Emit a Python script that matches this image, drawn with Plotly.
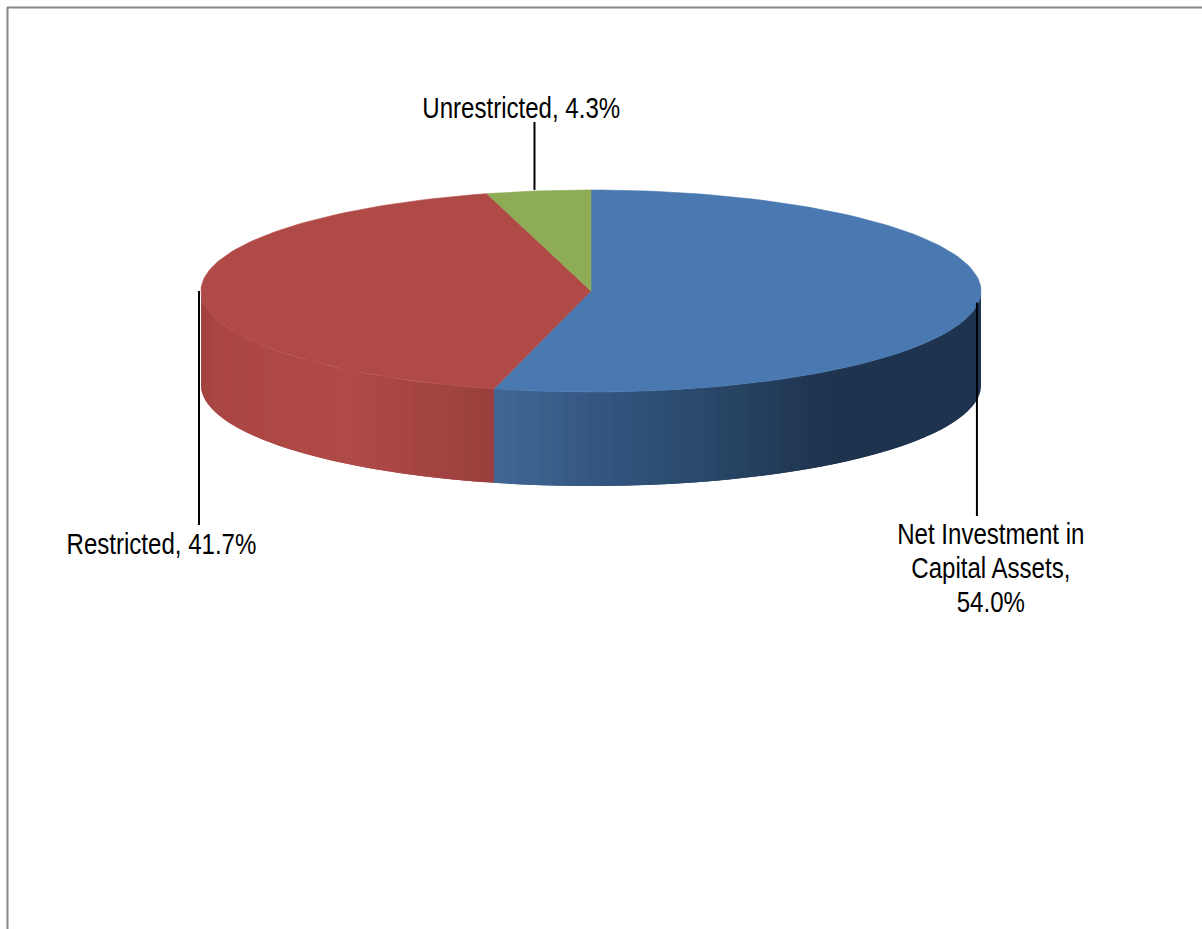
import numpy as np
import plotly.graph_objects as go

# --- data ---
categories = ["Net Investment in Capital Assets", "Restricted", "Unrestricted"]
shares = [54.0, 41.7, 4.3]

# --- styling ---
top_colors = ["#4a78b0", "#b04a47", "#8eab55"]
# side shading: (position along the slice's front x, colour)
blue_side_x = [495, 600, 700, 830, 981]
blue_side_rgb = [(64, 103, 150), (51, 86, 128), (42, 73, 107), (30, 51, 78), (30, 51, 78)]
red_side_x = [200, 215, 350, 440, 495]
red_side_rgb = [(160, 66, 63), (170, 70, 67), (176, 74, 71), (162, 68, 65), (154, 63, 61)]

W, H = 1202, 929
CX, CY, RX, RY, DEPTH = 591.0, 291.0, 390.0, 101.0, 94.0
FONT = "Liberation Sans, Arial, sans-serif"
FONT_SIZE = 29
X_SQUEEZE = 0.83
LINE_PX = 34


def ex(t):
    return CX + RX * np.sin(np.radians(t))


def ey(t):
    return CY - RY * np.cos(np.radians(t))


def shade(x, xs, rgb):
    return "rgb(%d,%d,%d)" % tuple(
        int(round(np.interp(x, xs, [c[i] for c in rgb]))) for i in range(3)
    )


fig = go.Figure()
edges = np.concatenate([[0], np.cumsum(shares)]) * 3.6

# side wall: only the front half of the disc is visible
sides = [(blue_side_x, blue_side_rgb), (red_side_x, red_side_rgb)]
for i in range(2):
    a0, a1 = max(edges[i], 90.0), min(edges[i + 1], 270.0)
    steps = np.linspace(a0, a1, 61)
    xs_s, rgb_s = sides[i]
    for k in range(len(steps) - 1):
        s0 = steps[k]
        s1 = steps[min(k + 2, len(steps) - 1)] if i == 1 else steps[k + 2] if k + 2 < len(steps) else steps[k + 1] + 1.0
        col = shade(ex((steps[k] + steps[k + 1]) / 2), xs_s, rgb_s)
        arc = np.linspace(s0, s1, 4)
        px = np.concatenate([ex(arc), ex(arc[::-1]), [ex(s0)]])
        py = np.concatenate([ey(arc), ey(arc[::-1]) + DEPTH, [ey(s0)]])
        fig.add_trace(go.Scatter(x=px, y=py, mode="lines", fill="toself", fillcolor=col,
                                 line=dict(width=0), hoverinfo="skip", showlegend=False))

# top face
for i, name in enumerate(categories):
    t = np.linspace(edges[i], edges[i + 1], 120)
    px = np.concatenate([[CX], ex(t), [CX]])
    py = np.concatenate([[CY], ey(t), [CY]])
    fig.add_trace(go.Scatter(x=px, y=py, mode="lines", fill="toself", fillcolor=top_colors[i],
                             line=dict(color=top_colors[i], width=0.6), name=name,
                             hoverinfo="skip", showlegend=False))

# leader lines and labels
leader_shift = [-1, -2, -4]
leader_end_y = [516, 525, 122]
label_pos = [(990.5, 571), (161.5, 544), (521, 108)]
label_text = [
    "Net Investment in<br>Capital Assets,<br>%.1f%%" % shares[0],
    "%s, %.1f%%" % (categories[1], shares[1]),
    "%s, %.1f%%" % (categories[2], shares[2]),
]
mids = (edges[:-1] + edges[1:]) / 2
for i in range(3):
    x0 = ex(mids[i]) + leader_shift[i]
    y0 = ey(mids[i]) - 1
    fig.add_trace(go.Scatter(x=[x0, x0], y=[y0, leader_end_y[i]], mode="lines",
                             line=dict(color="black", width=2), hoverinfo="skip", showlegend=False))
    fig.add_annotation(x=label_pos[i][0], y=label_pos[i][1], text=label_text[i], showarrow=False,
                       xanchor="center", yanchor="middle", align="center",
                       font=dict(family=FONT, size=FONT_SIZE, color="black"))

# frame (top and left only)
frame = dict(color="#868686", width=2)
fig.add_shape(type="line", x0=7, x1=W, y0=7.5, y1=7.5, line=frame)
fig.add_shape(type="line", x0=7.5, x1=7.5, y0=7, y1=H, line=frame)

fig.update_xaxes(range=[0, W], visible=False, fixedrange=True)
fig.update_yaxes(range=[H, 0], visible=False, fixedrange=True)
fig.update_layout(width=W, height=H, margin=dict(l=0, r=0, t=0, b=0),
                  paper_bgcolor="white", plot_bgcolor="white", showlegend=False)

# the reference text is set in a narrow face: squeeze labels and tighten their line pitch
post = """
document.body.style.margin='0';document.body.style.overflow='hidden';
document.querySelectorAll('text.annotation-text').forEach(function(t){
  t.querySelectorAll('tspan.line').forEach(function(s,i){ s.setAttribute('dy', (i*%d)+'px'); });
  var b=t.getBBox(), c=b.x+b.width/2;
  t.setAttribute('transform','translate('+c+',0) scale(%s,1) translate('+(-c)+',0)');
});
""" % (LINE_PX, X_SQUEEZE)
fig.write_html("out.html", config={"displayModeBar": False}, post_script=post)
